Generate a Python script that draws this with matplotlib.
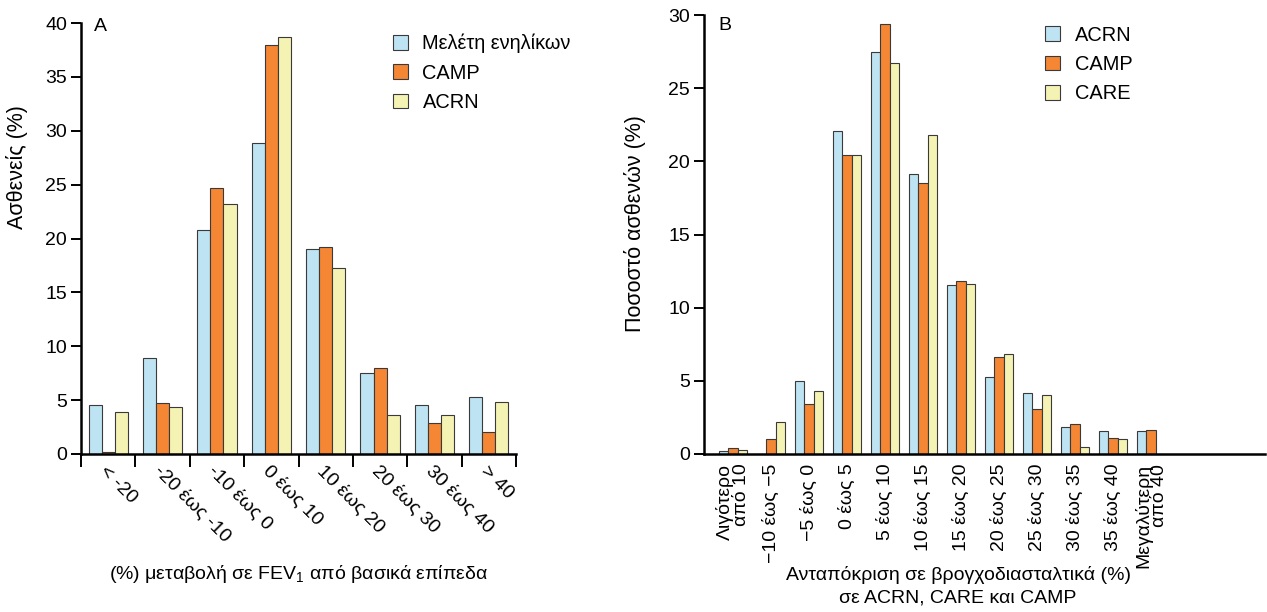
import matplotlib
matplotlib.use("Agg")
import matplotlib.pyplot as plt
import numpy as np

plt.rcParams['font.family'] = ['Liberation Sans', 'DejaVu Sans']
plt.rcParams['mathtext.fontset'] = 'custom'
plt.rcParams['mathtext.rm'] = 'Liberation Sans'

# Panel A data
cats_a = ["< -20", "-20 έως -10", "-10 έως 0", "0 έως 10", "10 έως 20",
          "20 έως 30", "30 έως 40", "> 40"]
adult_a = [4.55, 8.9, 20.8, 28.85, 19.0, 7.55, 4.55, 5.25]
camp_a = [0.2, 4.7, 24.7, 38.0, 19.2, 7.95, 2.85, 2.05]
acrn_a = [3.9, 4.4, 23.2, 38.7, 17.3, 3.6, 3.6, 4.8]
series_a = ["Μελέτη ενηλίκων", "CAMP", "ACRN"]

# Panel B data
cats_b = ["Λιγότερο\nαπό 10", "\u221210 έως \u22125", "\u22125 έως 0", "0 έως 5",
          "5 έως 10", "10 έως 15", "15 έως 20", "20 έως 25", "25 έως 30",
          "30 έως 35", "35 έως 40", "Μεγαλύτερη\nαπό 40"]
acrn_b = [0.23, 0.0, 4.97, 22.05, 27.45, 19.15, 11.57, 5.25, 4.15, 1.82, 1.55, 1.55]
camp_b = [0.39, 1.05, 3.45, 20.45, 29.4, 18.55, 11.8, 6.6, 3.05, 2.05, 1.12, 1.66]
care_b = [0.3, 2.2, 4.3, 20.45, 26.7, 21.8, 11.65, 6.8, 4.0, 0.5, 1.0, 0.0]
series_b = ["ACRN", "CAMP", "CARE"]

c_blue = "#BEE3F2"
c_orange = "#F48634"
c_yellow = "#F5F3B3"
edge = "#3a3a3a"

W, H = 1267, 612
fig = plt.figure(figsize=(W / 100, H / 100), dpi=100)

def px_ax(x0, x1, ytop, ybot):
    return fig.add_axes([x0 / W, 1 - ybot / H, (x1 - x0) / W, (ybot - ytop) / H])

FS = 14
FSY = 15.5

def style(ax):
    for s in ["top", "right"]:
        ax.spines[s].set_visible(False)
    for s in ["left", "bottom"]:
        ax.spines[s].set_linewidth(1.8)
    ax.tick_params(axis="y", length=7, width=1.4, labelsize=FS, pad=3)

leg_kw = dict(frameon=False, fontsize=FS + 0.4, handlelength=0.76, handleheight=0.76,
              handletextpad=0.72, labelspacing=0.52, borderpad=0, borderaxespad=0)

# ---------- Panel A ----------
axA = px_ax(81, 516, 23, 454)
style(axA)
xa = np.arange(len(cats_a))
bw = 0.24
for i, (vals, col, lab) in enumerate(zip([adult_a, camp_a, acrn_a],
                                         [c_blue, c_orange, c_yellow], series_a)):
    axA.bar(xa + (i - 1) * bw, vals, bw, color=col, edgecolor=edge,
            linewidth=0.8, label=lab)
axA.set_xlim(-0.5, len(cats_a) - 0.5)
axA.set_ylim(0, 40)
axA.set_yticks(np.arange(0, 41, 5))
axA.set_xticks(xa)
axA.set_xticklabels(cats_a, rotation=-45, ha="left", va="top",
                    rotation_mode="anchor", fontsize=FS)
axA.tick_params(axis="x", which="major", length=0, pad=6)
axA.set_xticks(np.arange(-0.5, len(cats_a), 1.0), minor=True)
axA.tick_params(axis="x", which="minor", length=9, width=1.4)
axA.set_xlabel(r"(%) μεταβολή σε FEV$_{\mathregular{1}}$ από βασικά επίπεδα", fontsize=FS)
axA.xaxis.set_label_coords(0.5, -0.253)
axA.xaxis.label.set_va("top")
axA.set_ylabel("Ασθενείς (%)", fontsize=FSY)
axA.yaxis.set_label_coords(-0.121, 0.665)
axA.text(0.03, 1.012, "A", transform=axA.transAxes, fontsize=FS,
         ha="left", va="top")
axA.legend(loc="upper left", bbox_to_anchor=(0.717, 0.975), **leg_kw)

# ---------- Panel B ----------
axB = px_ax(704, 1265, 15, 454)
style(axB)
xb = np.arange(len(cats_b))
bw = 0.245
for i, (vals, col, lab) in enumerate(zip([acrn_b, camp_b, care_b],
                                         [c_blue, c_orange, c_yellow], series_b)):
    axB.bar(xb + (i - 1) * bw, vals, bw, color=col, edgecolor=edge,
            linewidth=0.8, label=lab)
axB.set_xlim(-0.76, 14.0)
axB.set_ylim(0, 30)
axB.set_yticks(np.arange(0, 31, 5))
axB.set_xticks(xb)
axB.set_xticklabels(cats_b, rotation=90, ha="center", va="top",
                    multialignment="right", fontsize=FS, linespacing=0.9)
axB.tick_params(axis="x", length=0, pad=7)
axB.set_xlabel("Ανταπόκριση σε βρογχοδιασταλτικά (%)\nσε ACRN, CARE και CAMP",
               fontsize=FS, linespacing=1.45)
axB.xaxis.set_label_coords(0.453, -0.255)
axB.xaxis.label.set_va("top")
axB.set_ylabel("Ποσοστό ασθενών (%)", fontsize=FSY)
axB.yaxis.set_label_coords(-0.103, 0.526)
axB.text(0.025, 0.996, "B", transform=axB.transAxes, fontsize=FS,
         ha="left", va="top")
axB.legend(loc="upper left", bbox_to_anchor=(0.608, 0.976), **leg_kw)

fig.savefig("out.png", dpi=100)
